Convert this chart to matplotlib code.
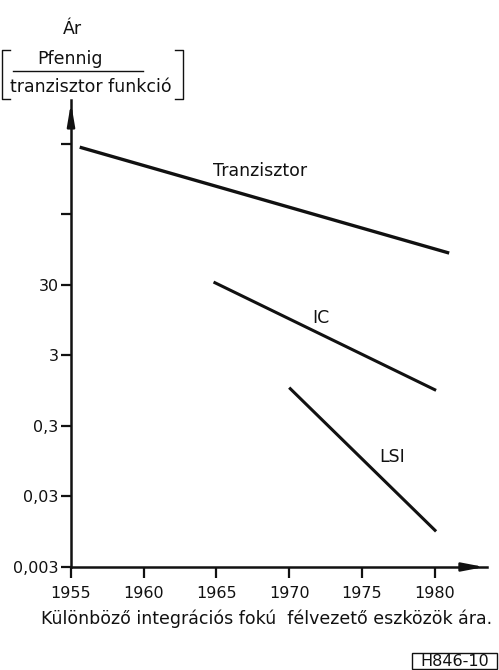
import matplotlib
matplotlib.use("Agg")
import matplotlib.pyplot as plt
from matplotlib.patches import Rectangle

# values (year, price in Pfennig / transistor function)
years_tranzisztor = [1955.6, 1981.0]
price_tranzisztor = [2700, 85]
years_ic = [1964.8, 1980.1]
price_ic = [33, 0.96]
years_lsi = [1970.0, 1980.1]
price_lsi = [1.05, 0.0096]

x_ticks = [1955, 1960, 1965, 1970, 1975, 1980]
y_ticks = [0.003, 0.03, 0.3, 3, 30, 300, 3000]
y_tick_labels = ["0,003", "0,03", "0,3", "3", "30", "", ""]

W, H = 499, 670
ink = "#111111"
plt.rcParams["font.family"] = ["DejaVu Sans"]

fig = plt.figure(figsize=(W / 100, H / 100), dpi=100)
fig.patch.set_facecolor("white")

# axes placed so the origin sits at px (71, 567) and arrow tips at 487 / 100
ax = fig.add_axes([71 / W, (H - 567) / H, (487 - 71) / W, (567 - 100) / H])
ax.set_yscale("log")
ax.set_xlim(1955, 1983.6)
ax.set_ylim(0.003, 12600)

for s in ["top", "right"]:
    ax.spines[s].set_visible(False)
for s in ["left", "bottom"]:
    ax.spines[s].set_linewidth(1.8)
    ax.spines[s].set_color(ink)

ax.set_xticks(x_ticks)
ax.set_xticklabels([str(y) for y in x_ticks], fontsize=11.5)
ax.set_yticks(y_ticks)
ax.set_yticklabels(y_tick_labels, fontsize=11.5)
ax.minorticks_off()
ax.tick_params(axis="x", direction="out", length=8, width=1.6, pad=6, colors=ink)
ax.tick_params(axis="y", direction="out", length=7, width=1.6, pad=2, colors=ink)

# axis arrow heads
ax.annotate("", xy=(1, 0), xytext=(0.95, 0), xycoords="axes fraction",
            arrowprops=dict(arrowstyle="-|>,head_length=1.3,head_width=0.25",
                            color=ink, lw=1.8), annotation_clip=False)
ax.annotate("", xy=(0, 1), xytext=(0, 0.95), xycoords="axes fraction",
            arrowprops=dict(arrowstyle="-|>,head_length=1.3,head_width=0.22",
                            color=ink, lw=1.8), annotation_clip=False)

# data lines
ax.plot(years_tranzisztor, price_tranzisztor, color=ink, lw=2.4, solid_capstyle="butt")
ax.plot(years_ic, price_ic, color=ink, lw=2.2, solid_capstyle="butt")
ax.plot(years_lsi, price_lsi, color=ink, lw=2.2, solid_capstyle="butt")

ax.text(1964.75, 1240, "Tranzisztor", fontsize=12.5, ha="left", va="center", color=ink)
ax.text(1972.2, 10.2, "IC", fontsize=12.5, ha="center", va="center", color=ink)
ax.text(1977.05, 0.109, "LSI", fontsize=12.5, ha="center", va="center", color=ink)

# y axis title with unit in brackets
fig.text(72 / W, 1 - 29 / H, "Ár", fontsize=12.5, ha="center", va="center", color=ink)
fig.text(70 / W, 1 - 59 / H, "Pfennig", fontsize=12.5, ha="center", va="center", color=ink)
fig.text(91 / W, 1 - 87 / H, "tranzisztor funkció", fontsize=12.5, ha="center", va="center", color=ink)
fig.add_artist(plt.Line2D([13 / W, 143 / W], [1 - 71 / H, 1 - 71 / H], color=ink, lw=1.0))
# brackets
bl, br, bt, bb = 2 / W, 183 / W, 1 - 50 / H, 1 - 99 / H
fig.add_artist(plt.Line2D([bl + 8 / W, bl, bl, bl + 8 / W], [bt, bt, bb, bb], color=ink, lw=1.0))
fig.add_artist(plt.Line2D([br - 8 / W, br, br, br - 8 / W], [bt, bt, bb, bb], color=ink, lw=1.0))

# caption
fig.text(267 / W, 1 - 619 / H, "Különböző integrációs fokú  félvezető eszközök ára.",
         fontsize=12.5, ha="center", va="center", color=ink)

# figure code in a box
fig.text(455 / W, 1 - 662 / H, "H846-10", fontsize=11.5, ha="center", va="center", color=ink)
fig.add_artist(Rectangle((412 / W, 1 / H), 85 / W, 16 / H, transform=fig.transFigure,
                         fill=False, edgecolor=ink, lw=1.0))

fig.savefig("out.png", dpi=100, facecolor="white")
